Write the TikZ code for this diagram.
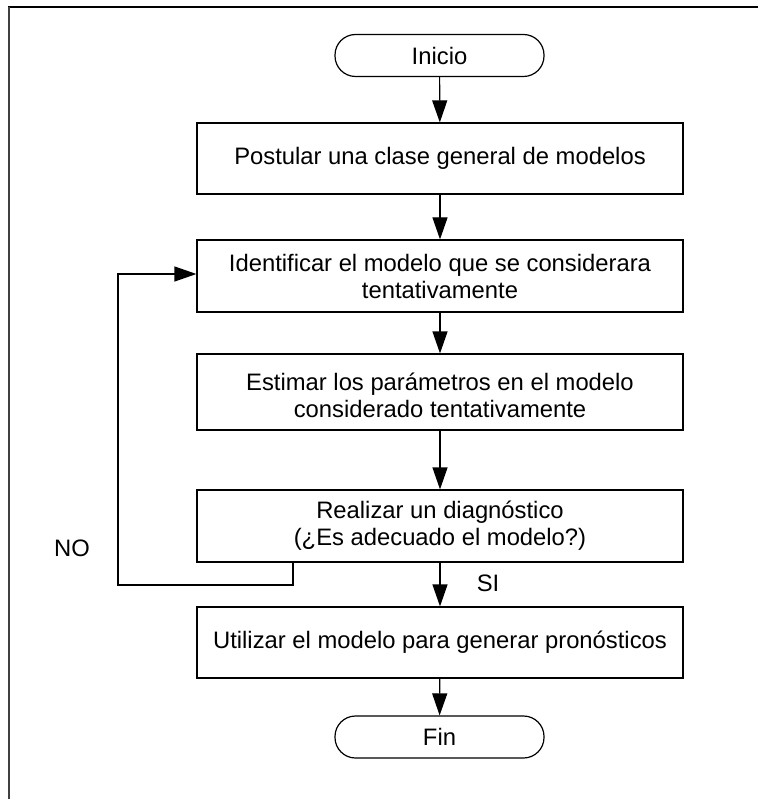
\documentclass[tikz,border=0pt]{standalone}
\usepackage{fontspec}
\setmainfont{Liberation Sans}
\usetikzlibrary{arrows.meta}
\tikzset{
  box/.style={draw=black, line width=1.2pt, minimum width=486pt, inner sep=0pt, align=center, font=\fontsize{23.8}{27}\selectfont},
  term/.style={draw=black, line width=1.2pt, minimum width=209pt, minimum height=42pt, rounded corners=20.5pt, inner sep=0pt, font=\fontsize{23.8}{27}\selectfont},
  flow/.style={line width=1.2pt, -{Triangle[length=22pt,width=15pt]}},
  lbl/.style={font=\fontsize{23.8}{27}\selectfont, inner sep=0pt}
}
\begin{document}
\begin{tikzpicture}[x=1pt,y=-1pt]
\useasboundingbox (0,0) rectangle (758,799);
% frame
\draw[line width=1.6pt, black] (8,7) -- (758,7);
\draw[line width=2pt, black!75] (8.5,7) -- (8.5,799);
% nodes
\node[term] (start) at (439.5,55.5) {Inicio};
\node[box, minimum height=71pt] (b1) at (440,158.5) {Postular una clase general de modelos};
\node[box, minimum height=72pt] (b2) at (440,276) {Identificar el modelo que se considerara\\tentativamente};
\node[box, minimum height=76pt] (b3) at (440,392) {\rule{0pt}{24pt}Estimar los parámetros en el modelo\\considerado tentativamente};
\node[box, minimum height=72pt] (b4) at (440,526) {Realizar un diagnóstico\\(¿Es adecuado el modelo?)};
\node[box, minimum height=71pt] (b5) at (440,642.5) {Utilizar el modelo para generar pronósticos};
\node[term] (fin) at (439.5,737) {Fin};
\node[lbl] (no) at (72,548) {NO};
\node[lbl] (si) at (488,583) {SI};
% connectors
\draw[flow] (start) -- (b1);
\draw[flow] (b1) -- (b2);
\draw[flow] (b2) -- (b3);
\draw[flow] (b3) -- (b4);
\draw[flow] (b4) -- (b5);
\draw[flow] (b5) -- (fin);
\coordinate (l1) at (293,585);
\coordinate (l2) at (118,585);
\coordinate (l3) at (118,274);
\draw[flow] (b4.south -| l1) -- (l1) -- (l2) -- (l3) -- (l3 -| b2.west);
\end{tikzpicture}
\end{document}
